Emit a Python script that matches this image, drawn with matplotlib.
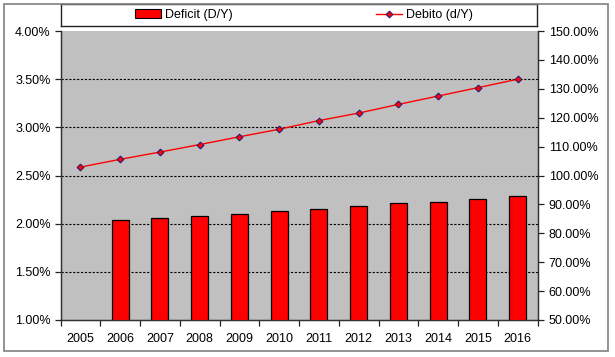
import matplotlib
matplotlib.use("Agg")
import matplotlib.pyplot as plt
from matplotlib.patches import Rectangle, Patch
from matplotlib.lines import Line2D
from matplotlib.ticker import FuncFormatter, FixedLocator
import numpy as np

years = ["2005", "2006", "2007", "2008", "2009", "2010", "2011", "2012", "2013", "2014", "2015", "2016"]
deficit = [np.nan, 2.035, 2.055, 2.084, 2.105, 2.13, 2.15, 2.18, 2.215, 2.23, 2.26, 2.29]  # % of GDP
debito = [102.9, 105.6, 108.1, 110.7, 113.4, 116.0, 119.0, 121.6, 124.6, 127.5, 130.4, 133.3]  # % of GDP
left_ticks = [1.0, 1.5, 2.0, 2.5, 3.0, 3.5, 4.0]
right_ticks = [50, 60, 70, 80, 90, 100, 110, 120, 130, 140, 150]

plt.rcParams['font.family'] = ['Liberation Sans', 'DejaVu Sans']
plt.rcParams['font.size'] = 9

W, H = 615, 357
fig = plt.figure(figsize=(W / 100, H / 100), dpi=100)
fig.patch.set_facecolor('white')

# outer frame
fig.patches.append(Rectangle((4 / W, 1 - 351 / H), 604 / W, 347 / H, transform=fig.transFigure,
                             fill=False, edgecolor='#808080', lw=1.2))

L, R, T, B = 60.5, 537.5, 31, 320
ax = fig.add_axes([L / W, 1 - B / H, (R - L) / W, (B - T) / H])
ax.set_facecolor('#C0C0C0')
x = np.arange(len(years))

ax.bar(x, deficit, width=0.43, color='#FF0000', edgecolor='black', linewidth=0.9, zorder=3)
ax.set_xlim(-0.5, len(years) - 0.5)
ax.set_ylim(1.0, 4.0)
ax.set_yticks(left_ticks)
ax.yaxis.set_major_formatter(FuncFormatter(lambda v, p: f"{v:.2f}%"))
for yv in left_ticks[1:-1]:
    ax.axhline(yv, color='black', lw=0.8, linestyle=(0, (2.0, 1.5)), zorder=1)

ax.set_xticks(x)
ax.set_xticklabels(years)
ax.xaxis.set_minor_locator(FixedLocator(np.arange(-0.5, len(years), 1.0)))
ax.tick_params(axis='x', which='major', length=0, pad=9)
ax.tick_params(axis='x', which='minor', length=4, direction='out', width=0.9, color='#222222')
ax.tick_params(axis='y', length=4, direction='out', width=0.9, pad=3, color='#222222')

for s in ['left', 'right', 'bottom']:
    ax.spines[s].set_color('#333333')
    ax.spines[s].set_linewidth(1.0)
ax.spines['top'].set_visible(False)

ax2 = ax.twinx()
ax2.plot(x, debito, color='#FF0000', lw=1.0, marker='D', markersize=3.5,
         markerfacecolor='#FF0000', markeredgecolor='#1a1a80', markeredgewidth=0.7, zorder=4)
ax2.set_ylim(50, 150)
ax2.set_yticks(right_ticks)
ax2.yaxis.set_major_formatter(FuncFormatter(lambda v, p: f"{v:.2f}%"))
ax2.tick_params(axis='y', length=4, direction='out', width=0.9, pad=4, color='#222222')
for s in ['left', 'right', 'bottom']:
    ax2.spines[s].set_color('#333333')
ax2.spines['top'].set_visible(False)

# legend box
lax = fig.add_axes([61 / W, 1 - 26 / H, 476 / W, 22 / H])
lax.set_xticks([]); lax.set_yticks([])
lax.set_facecolor('white')
for s in lax.spines.values():
    s.set_color('#222222'); s.set_linewidth(1.0)
handles = [Patch(facecolor='#FF0000', edgecolor='black', linewidth=0.8),
           Line2D([0], [0], color='#FF0000', lw=1.0, marker='D', markersize=3.5,
                  markerfacecolor='#FF0000', markeredgecolor='#1a1a80', markeredgewidth=0.7)]
lax.legend(handles, ['Deficit (D/Y)', 'Debito (d/Y)'], ncol=2, loc='center',
           bbox_to_anchor=(0.51, 0.5), frameon=False, handlelength=2.1,
           handletextpad=0.3, columnspacing=11.5, fontsize=9)

fig.savefig('out.png', dpi=100)
